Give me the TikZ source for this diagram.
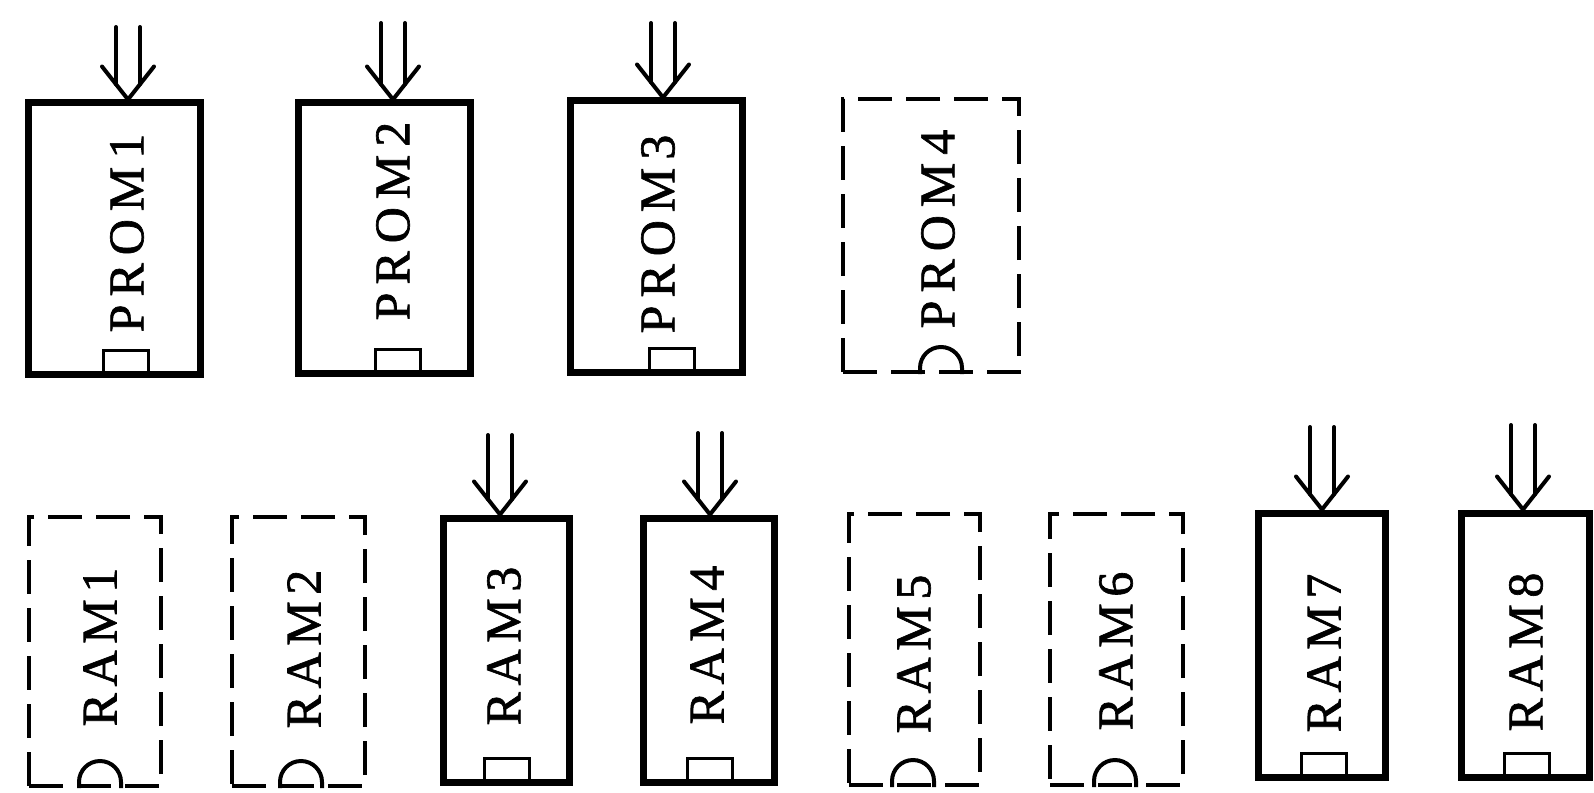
\documentclass[tikz,border=0pt]{standalone}
\usepackage{fontspec}
\usetikzlibrary{calc}
\newfontfamily\chipfont[FakeBold=1.3]{Liberation Serif}
% letter spacing inside the chip names
\newcommand{\lsp}{\kern4pt}
\newcommand{\rsp}{\kern3.3pt}

\tikzset{
  chip/.style={draw, rectangle, line width=3.5pt, inner sep=0pt},
  sparechip/.style={draw, rectangle, line width=2pt, dash pattern=on 17pt off 7pt, inner sep=0pt},
  chiplabel/.style={rotate=90, inner sep=0pt, font=\chipfont\fontsize{25}{25}\selectfont},
  keyrect/.style={draw, line width=1.5pt},
  keyarc/.style={draw, line width=2pt},
  feed/.style={line width=2pt, line cap=round},
}

% chip outline: name, style, centre x, centre y, width, height (all in px)
\newcommand{\chipbox}[6]{%
  \node[#2, minimum width=#5*0.5pt, minimum height=#6*0.5pt] (#1) at (#3,#4) {};}
% rectangular key resting on the lower edge of a fitted chip: name, x
\newcommand{\keynotch}[2]{%
  \coordinate (#1-key) at (#2,0);
  \draw[keyrect] ([xshift=-11.25pt,yshift=1.75pt]#1-key |- #1.south) rectangle +(22.5pt,12pt);}
% round key on the lower edge of an empty socket: name, x
\newcommand{\keyround}[2]{%
  \coordinate (#1-key) at (#2,0);
  \draw[keyarc] ([xshift=-10.5pt]#1-key |- #1.south) -- ++(0,3pt)
     arc[start angle=180, end angle=0, radius=10.5pt] -- ++(0,-3pt);}
% double-line feed arrow into the top of a chip: name, x, start y
\newcommand{\feed}[3]{%
  \coordinate (#1-in) at (#2,#3);
  \coordinate (#1-tip) at (#1-in |- #1.north);
  \draw[feed, line join=miter] ($(#1-tip)+(-13pt,16.5pt)$) -- (#1-tip) -- ($(#1-tip)+(13pt,16.5pt)$);
  \draw[feed] ([xshift=-6pt]#1-in) -- ($(#1-tip)+(-6pt,7.6pt)$);
  \draw[feed] ([xshift=6pt]#1-in) -- ($(#1-tip)+(6pt,7.6pt)$);}

\begin{document}
\begin{tikzpicture}[x=0.5pt, y=-0.5pt]
  \fill[white] (0,0) rectangle (1594,792);
  \useasboundingbox (0,0) rectangle (1594,792);

  % ---- program memory row ----
  \chipbox{PROM1}{chip}{114}{238.5}{172}{271}
  \chipbox{PROM2}{chip}{384}{238}{172}{270}
  \chipbox{PROM3}{chip}{656}{236.5}{172}{271}
  \chipbox{PROM4}{sparechip}{931}{235.5}{176}{273}

  \node[chiplabel] (PROM1-label) at (127,233) {P\lsp R\lsp O\lsp M\lsp 1};
  \node[chiplabel] (PROM2-label) at (393,221) {P\lsp R\lsp O\lsp M\lsp 2};
  \node[chiplabel] (PROM3-label) at (658,234) {P\lsp R\lsp O\lsp M\lsp 3};
  \node[chiplabel] (PROM4-label) at (938,229) {P\lsp R\lsp O\lsp M\lsp 4};

  \keynotch{PROM1}{126}
  \keynotch{PROM2}{398}
  \keynotch{PROM3}{672}
  \keyround{PROM4}{941}

  \feed{PROM1}{128}{27}
  \feed{PROM2}{393}{23}
  \feed{PROM3}{663}{23}

  % ---- data memory row ----
  \chipbox{RAM1}{sparechip}{95}{651.5}{132}{269}
  \chipbox{RAM2}{sparechip}{298.5}{651.5}{133}{269}
  \chipbox{RAM3}{chip}{506}{650}{126}{264}
  \chipbox{RAM4}{chip}{708.5}{650}{131}{264}
  \chipbox{RAM5}{sparechip}{914.5}{649.5}{131}{271}
  \chipbox{RAM6}{sparechip}{1116.5}{649.5}{133}{271}
  \chipbox{RAM7}{chip}{1321.5}{645}{127}{264}
  \chipbox{RAM8}{chip}{1525}{645}{128}{264}

  \node[chiplabel] (RAM1-label) at (100,647)  {R\rsp A\rsp M\rsp 1};
  \node[chiplabel] (RAM2-label) at (304,649)  {R\rsp A\rsp M\rsp 2};
  \node[chiplabel] (RAM3-label) at (504,646)  {R\rsp A\rsp M\rsp 3};
  \node[chiplabel] (RAM4-label) at (707,645)  {R\rsp A\rsp M\rsp 4};
  \node[chiplabel] (RAM5-label) at (914,654)  {R\rsp A\rsp M\rsp 5};
  \node[chiplabel] (RAM6-label) at (1116,651) {R\rsp A\rsp M\rsp 6};
  \node[chiplabel] (RAM7-label) at (1324,653) {R\rsp A\rsp M\rsp 7};
  \node[chiplabel] (RAM8-label) at (1526,652) {R\rsp A\rsp M\rsp 8};

  \keyround{RAM1}{100}
  \keyround{RAM2}{301}
  \keynotch{RAM3}{507}
  \keynotch{RAM4}{710}
  \keyround{RAM5}{913}
  \keyround{RAM6}{1115}
  \keynotch{RAM7}{1324}
  \keynotch{RAM8}{1527}

  \feed{RAM3}{500}{435}
  \feed{RAM4}{710}{433}
  \feed{RAM7}{1322}{427}
  \feed{RAM8}{1523}{425}
\end{tikzpicture}
\end{document}
